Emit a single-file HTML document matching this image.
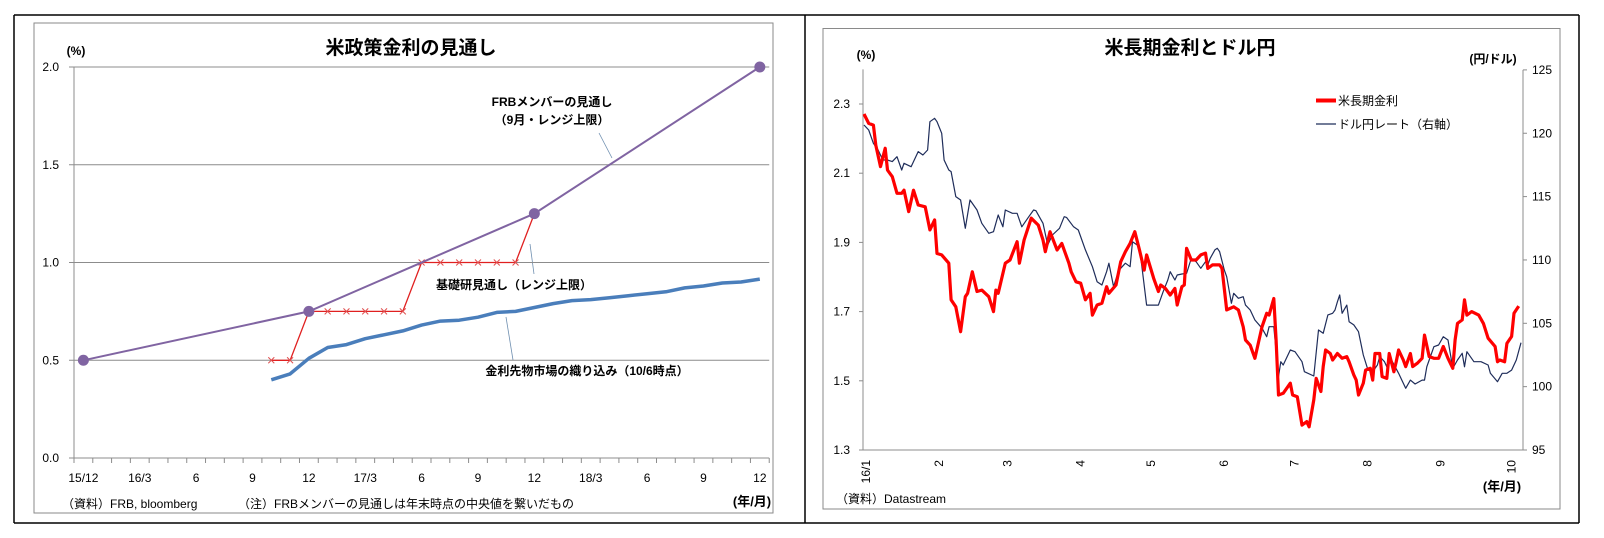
<!DOCTYPE html>
<html><head><meta charset="utf-8">
<style>
html,body{margin:0;padding:0;background:#fff;}
svg{display:block;font-family:"Liberation Sans","Noto Sans CJK JP",sans-serif;}
</style></head>
<body>
<svg id="s" width="1604" height="538" viewBox="0 0 1604 538" xmlns="http://www.w3.org/2000/svg">
<g stroke="#000" stroke-width="1.5" fill="none">
<line x1="14" y1="15" x2="1579" y2="15"/><line x1="14" y1="523" x2="1579" y2="523"/>
<line x1="14" y1="15" x2="14" y2="523"/><line x1="805" y1="15" x2="805" y2="523"/><line x1="1579" y1="15" x2="1579" y2="523"/>
</g>
<rect x="34" y="23" width="739" height="490" fill="#fff" stroke="#8a8a8a" stroke-width="1"/>
<rect x="823" y="28.5" width="737" height="480.5" fill="#fff" stroke="#8a8a8a" stroke-width="1"/>

<g id="L">
<text x="411" y="54" text-anchor="middle" font-size="19" font-weight="bold">米政策金利の見通し</text>
<text x="76" y="55" text-anchor="middle" font-size="12" font-weight="bold">(%)</text>
<text x="752" y="506" text-anchor="middle" font-size="13" font-weight="bold">(年/月)</text>
<text x="62" y="508" font-size="12">（資料）FRB, bloomberg</text>
<text x="238" y="508" font-size="12">（注）FRBメンバーの見通しは年末時点の中央値を繋いだもの</text>
<text x="552" y="106" text-anchor="middle" font-size="12" font-weight="bold">FRBメンバーの見通し</text>
<text x="552" y="124" text-anchor="middle" font-size="12" font-weight="bold">（9月・レンジ上限）</text>
<line x1="599" y1="133" x2="612" y2="158" stroke="#6f8fb0" stroke-width="0.8"/>
<text x="514" y="289" text-anchor="middle" font-size="12" font-weight="bold">基礎研見通し（レンジ上限）</text>
<line x1="534" y1="274" x2="530" y2="244" stroke="#6f8fb0" stroke-width="0.8"/>
<text x="587" y="375" text-anchor="middle" font-size="12" font-weight="bold">金利先物市場の織り込み（10/6時点）</text>
<line x1="513" y1="360" x2="506" y2="317" stroke="#6f8fb0" stroke-width="0.8"/>
</g>

<g id="R">
<text x="1190" y="54" text-anchor="middle" font-size="19" font-weight="bold">米長期金利とドル円</text>
<text x="866" y="59" text-anchor="middle" font-size="12" font-weight="bold">(%)</text>
<text x="1493" y="63" text-anchor="middle" font-size="12" font-weight="bold">(円/ドル)</text>
<text x="1502" y="491" text-anchor="middle" font-size="13" font-weight="bold">(年/月)</text>
<text x="836" y="503" font-size="12">（資料）Datastream</text>
<g>
<line x1="1316" y1="100.5" x2="1336" y2="100.5" stroke="#ff0000" stroke-width="4"/>
<text x="1338" y="105" font-size="12">米長期金利</text>
<line x1="1316" y1="124" x2="1336" y2="124" stroke="#1f2d5a" stroke-width="1.2"/>
<text x="1338" y="128.5" font-size="12">ドル円レート（右軸）</text>
</g>
</g>
</svg>
<script>
// ---------- Left chart data ----------
const leftCats = ["15/12","16/1","16/2","16/3","16/4","16/5","16/6","16/7","16/8","16/9","16/10","16/11","16/12","17/1","17/2","17/3","17/4","17/5","17/6","17/7","17/8","17/9","17/10","17/11","17/12","18/1","18/2","18/3","18/4","18/5","18/6","18/7","18/8","18/9","18/10","18/11","18/12"];
const leftTickLabels = ["15/12","","","16/3","","","6","","","9","","","12","","","17/3","","","6","","","9","","","12","","","18/3","","","6","","","9","","","12"];
const leftYTicks = [0.0,0.5,1.0,1.5,2.0];
const frbIdx = [0,12,24,36];
const frbVals = [0.5,0.75,1.25,2.0];
const nliIdx = [10,11,12,13,14,15,16,17,18,19,20,21,22,23,24];
const nliVals = [0.5,0.5,0.75,0.75,0.75,0.75,0.75,0.75,1.0,1.0,1.0,1.0,1.0,1.0,1.25];
const futIdx = [10,11,12,13,14,15,16,17,18,19,20,21,22,23,24,25,26,27,28,29,30,31,32,33,34,35,36];
const futVals = [0.40,0.43,0.51,0.565,0.58,0.61,0.63,0.65,0.68,0.70,0.705,0.72,0.745,0.75,0.77,0.79,0.805,0.81,0.82,0.83,0.84,0.85,0.87,0.88,0.895,0.90,0.915];

// ---------- Right chart data ----------
const monthLabels = ["16/1","2","3","4","5","6","7","8","9","10"];
const monthDays = [0,31,60,91,121,152,182,213,244,274];
const yieldTicks = [1.3,1.5,1.7,1.9,2.1,2.3];
const jpyTicks = [95,100,105,110,115,120,125];
const yieldDays = [0,2,4,5,7,9,10,12,14,16,17,19,21,23,26,28,30,31,33,36,37,39,41,43,44,46,48,50,53,55,56,57,60,62,65,66,68,71,74,76,77,79,82,84,87,88,90,92,94,96,97,99,101,103,104,107,109,111,113,115,117,119,120,123,125,126,128,130,132,133,135,136,137,139,141,143,145,146,148,151,152,154,157,159,161,162,164,166,169,171,172,174,175,176,178,181,182,184,186,188,189,191,192,194,195,196,198,199,201,203,205,206,208,209,210,212,213,215,216,217,219,220,222,223,225,226,227,229,230,232,233,235,237,238,240,242,244,246,248,250,251,252,254,255,256,258,261,263,265,268,269,270,272,273,275,276,278];
const yieldVals = [2.271,2.244,2.239,2.181,2.119,2.172,2.109,2.090,2.042,2.042,2.051,1.989,2.051,2.008,2.003,1.936,1.965,1.868,1.864,1.840,1.734,1.714,1.642,1.743,1.753,1.815,1.758,1.762,1.743,1.700,1.762,1.753,1.840,1.849,1.902,1.840,1.907,1.970,1.950,1.907,1.873,1.931,1.878,1.897,1.840,1.815,1.786,1.782,1.734,1.753,1.690,1.719,1.724,1.772,1.753,1.777,1.844,1.873,1.897,1.931,1.878,1.820,1.864,1.796,1.758,1.777,1.767,1.748,1.767,1.719,1.772,1.777,1.883,1.849,1.849,1.864,1.869,1.825,1.835,1.835,1.825,1.705,1.714,1.705,1.656,1.618,1.603,1.565,1.656,1.695,1.690,1.738,1.618,1.459,1.464,1.493,1.459,1.454,1.372,1.382,1.367,1.445,1.507,1.469,1.541,1.589,1.579,1.560,1.579,1.565,1.570,1.555,1.517,1.502,1.459,1.493,1.531,1.536,1.502,1.579,1.579,1.512,1.507,1.579,1.526,1.555,1.589,1.560,1.541,1.579,1.541,1.551,1.565,1.632,1.570,1.565,1.565,1.599,1.565,1.536,1.618,1.666,1.676,1.734,1.690,1.700,1.690,1.666,1.623,1.599,1.555,1.560,1.555,1.608,1.628,1.695,1.716];
const jpyDays = [0,2,4,6,8,10,12,14,16,17,20,23,25,27,28,30,31,33,34,36,37,39,41,43,45,48,50,53,55,57,59,60,63,65,67,70,72,73,76,78,80,83,85,86,89,91,94,97,99,101,103,104,106,108,109,111,113,114,116,117,118,120,123,125,127,129,130,132,133,135,137,139,141,143,145,146,147,149,150,151,153,154,156,157,159,161,162,164,166,169,171,172,174,176,177,178,181,183,186,187,191,193,195,197,199,200,201,202,203,205,206,208,210,212,214,216,218,219,221,222,224,227,230,232,234,237,238,239,240,242,244,246,248,250,252,254,255,256,259,262,265,266,269,271,273,275,277,279];
const jpyVals = [120.65,120.26,119.21,118.68,117.89,117.89,117.76,118.15,117.10,117.63,117.36,118.55,118.28,118.68,120.91,121.18,120.91,120.0,117.89,117.10,116.97,115.0,114.73,112.50,114.73,113.94,112.89,112.10,112.23,113.55,112.62,113.94,113.68,113.68,112.62,113.41,113.94,113.89,112.89,111.18,111.97,112.50,113.41,113.36,112.62,112.36,110.79,109.47,108.28,108.02,109.07,109.74,107.89,109.07,109.34,109.74,109.47,111.44,111.18,110.92,109.47,106.44,106.44,106.44,107.49,108.42,109.07,108.42,108.81,108.89,108.95,110.13,109.86,109.34,109.86,109.60,110.13,110.79,110.92,110.66,109.21,108.68,106.58,107.37,106.97,107.10,106.44,106.05,105.26,104.61,103.94,104.73,104.73,100.79,101.97,101.71,102.89,102.76,101.97,101.18,100.84,104.47,104.21,105.66,105.79,106.05,106.70,107.23,105.79,106.44,105.13,104.87,104.34,102.50,101.31,101.18,101.71,102.37,101.97,101.57,102.10,101.05,99.87,100.52,100.21,100.52,100.52,101.57,102.10,103.15,103.29,103.94,103.68,101.45,102.10,102.63,101.57,102.76,101.97,101.97,101.71,101.05,100.39,101.05,101.05,101.31,102.10,103.47];

const NS = "http://www.w3.org/2000/svg";
function mk(tag, attrs, parent) {
  const e = document.createElementNS(NS, tag);
  for (const k in attrs) e.setAttribute(k, attrs[k]);
  parent.appendChild(e);
  return e;
}
const L = document.getElementById("L");
const R = document.getElementById("R");

// Left axes
const catW = 18.79, lx0 = 74, ly0 = 458, lpx = 195.5;
function xL(i) { return lx0 + (i + 0.5) * catW; }
function yL(v) { return ly0 - v * lpx; }
const lxEnd = lx0 + leftCats.length * catW;
leftYTicks.forEach(v => {
  if (v > 0) {
    const g = mk("line", {x1: lx0, x2: lxEnd, y1: yL(v), y2: yL(v), stroke: "#8c8c8c", "stroke-width": 1}, L);
    
    
  }
  const t = mk("text", {x: 59, y: yL(v) + 4, "text-anchor": "end", "font-size": 12}, L);
  t.textContent = v.toFixed(1);
  
  
  const tk = mk("line", {x1: lx0 - 5, x2: lx0, y1: yL(v), y2: yL(v), stroke: "#8c8c8c"}, L);
  
  
});
const lyAxis = mk("line", {x1: lx0, x2: lx0, y1: yL(2.0), y2: ly0, stroke: "#8c8c8c"}, L);


const lxAxis = mk("line", {x1: lx0, x2: lxEnd, y1: ly0, y2: ly0, stroke: "#8c8c8c"}, L);


for (let k = 0; k <= leftCats.length; k++) {
  const tk = mk("line", {x1: lx0 + k * catW, x2: lx0 + k * catW, y1: ly0, y2: ly0 + 5, stroke: "#8c8c8c"}, L);
  
  
}
leftTickLabels.forEach((s, i) => {
  if (!s) return;
  const t = mk("text", {x: xL(i), y: 482, "text-anchor": "middle", "font-size": 12}, L);
  t.textContent = s;
  
  
});
function pts(idx, vals, fx, fy) { return idx.map((d, i) => fx(d).toFixed(1) + "," + fy(vals[i]).toFixed(1)).join(" "); }
const futLine = mk("polyline", {points: pts(futIdx, futVals, xL, yL), fill: "none", stroke: "#4a7ebb", "stroke-width": 3.5, "stroke-linejoin": "round"}, L);


const nliLine = mk("polyline", {points: pts(nliIdx, nliVals, xL, yL), fill: "none", stroke: "#e02020", "stroke-width": 1.3}, L);


nliIdx.forEach((d, i) => {
  const cx = xL(d), cy = yL(nliVals[i]);
  const m = mk("path", {d: `M${cx-3},${cy-3}L${cx+3},${cy+3}M${cx-3},${cy+3}L${cx+3},${cy-3}`, stroke: "#e05050", "stroke-width": 1}, L);
  
  
});
const frbLine = mk("polyline", {points: pts(frbIdx, frbVals, xL, yL), fill: "none", stroke: "#8064a2", "stroke-width": 2}, L);


frbIdx.forEach((d, i) => {
  const c = mk("circle", {cx: xL(d), cy: yL(frbVals[i]), r: 5.5, fill: "#8064a2"}, L);
  
  
});

// Right axes
const rx0 = 863, rx1 = 1523, ry0 = 450, dayW = 2.355;
function xR(d) { return rx0 + 1 + d * dayW; }
function yY(v) { return ry0 - (v - 1.3) * 346; }
function yJ(v) { return ry0 - (v - 95) * 12.67; }
const ra1 = mk("line", {x1: rx0, x2: rx0, y1: yY(2.4), y2: ry0, stroke: "#8c8c8c"}, R);


const ra2 = mk("line", {x1: rx1, x2: rx1, y1: yJ(125), y2: ry0, stroke: "#8c8c8c"}, R);


const ra3 = mk("line", {x1: rx0, x2: rx1, y1: ry0, y2: ry0, stroke: "#8c8c8c"}, R);


yieldTicks.forEach(v => {
  const t = mk("text", {x: 850, y: yY(v) + 4, "text-anchor": "end", "font-size": 12}, R);
  t.textContent = v.toFixed(1);
  
  
  const tk = mk("line", {x1: rx0 - 4, x2: rx0, y1: yY(v), y2: yY(v), stroke: "#8c8c8c"}, R);
  
  
});
jpyTicks.forEach(v => {
  const t = mk("text", {x: 1532, y: yJ(v) + 4, "font-size": 12}, R);
  t.textContent = v;
  
  
  const tk = mk("line", {x1: rx1, x2: rx1 + 4, y1: yJ(v), y2: yJ(v), stroke: "#8c8c8c"}, R);
  
  
});
monthLabels.forEach((s, i) => {
  const x = xR(monthDays[i]) + 2 + 4;
  const t = mk("text", {x: x, y: 460, "font-size": 12, "text-anchor": "end", transform: `rotate(-90 ${x} 460)`}, R);
  t.textContent = s;
  
  
});
const jl = mk("polyline", {points: pts(jpyDays, jpyVals, xR, yJ), fill: "none", stroke: "#1f2d5a", "stroke-width": 1.2, "stroke-linejoin": "round"}, R);


const yl = mk("polyline", {points: pts(yieldDays, yieldVals, xR, yY), fill: "none", stroke: "#ff0000", "stroke-width": 3.2, "stroke-linejoin": "round"}, R);


</script>
</body></html>
